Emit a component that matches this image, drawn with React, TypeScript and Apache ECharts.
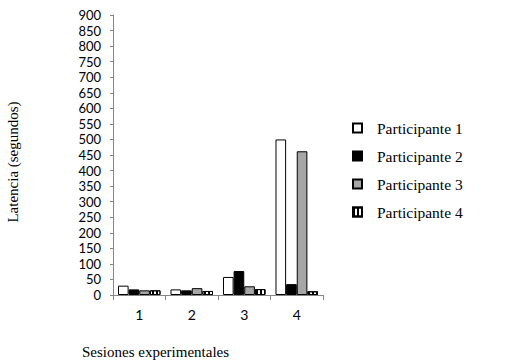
import React, { useEffect, useRef } from "react";
import * as echarts from "echarts";

const categories = ["1", "2", "3", "4"];
const participante1 = [30, 18, 58, 500];
const participante2 = [18, 15, 77, 35];
const participante3 = [15, 22, 28, 462];
const participante4 = [15, 13, 19, 12];
const seriesNames = ["Participante 1", "Participante 2", "Participante 3", "Participante 4"];

export default function App() {
  const ref = useRef<HTMLDivElement>(null);
  useEffect(() => {
    const chart = echarts.init(ref.current!, null, { renderer: "svg" });
    const serif = "Liberation Serif";
    const sans = "Lato";
    const base = { type: "bar", barGap: "0%", barCategoryGap: "19%" };
    chart.setOption({
      animation: false,
      backgroundColor: "#fff",
      grid: { left: 113, right: 184, top: 15, bottom: 68, containLabel: false },
      legend: {
        orient: "vertical",
        left: 347,
        top: 115,
        itemWidth: 9,
        itemHeight: 9,
        itemGap: 12,
        icon: "rect",
        data: seriesNames,
        textStyle: { fontFamily: serif, fontSize: 15.5, color: "#000", padding: [0, 0, 0, 10], lineHeight: 15 },
      },
      xAxis: {
        type: "category",
        data: categories,
        axisLine: { lineStyle: { color: "#868686" } },
        axisTick: { show: true, length: 5, lineStyle: { color: "#868686" } },
        axisLabel: { fontFamily: sans, fontSize: 14, color: "#000", margin: 12 },
      },
      yAxis: {
        type: "value",
        min: 0,
        max: 900,
        interval: 50,
        splitLine: { show: false },
        axisLine: { show: true, lineStyle: { color: "#868686" } },
        axisTick: { show: true, length: 3, lineStyle: { color: "#868686" } },
        axisLabel: { fontFamily: sans, fontSize: 13, color: "#000", margin: 12 },
      },
      graphic: [
        {
          type: "text",
          x: 13,
          y: 162,
          rotation: Math.PI / 2,
          style: {
            text: "Latencia (segundos)",
            fontFamily: serif,
            fontSize: 15,
            fill: "#000",
            align: "center",
            verticalAlign: "middle",
          },
        },
        {
          type: "text",
          x: 82,
          y: 352,
          style: {
            text: "Sesiones experimentales",
            fontFamily: serif,
            fontSize: 15,
            fill: "#000",
            align: "left",
            verticalAlign: "middle",
          },
        },
      ],
      series: [
        { ...base, name: seriesNames[0], data: participante1, itemStyle: { color: "#ffffff", borderColor: "#000", borderWidth: 1 } },
        { ...base, name: seriesNames[1], data: participante2, itemStyle: { color: "#000000", borderColor: "#000", borderWidth: 1 } },
        { ...base, name: seriesNames[2], data: participante3, itemStyle: { color: "#a6a6a6", borderColor: "#000", borderWidth: 1 } },
        {
          ...base,
          name: seriesNames[3],
          data: participante4,
          itemStyle: {
            color: "#ffffff",
            borderColor: "#000",
            borderWidth: 1,
            decal: {
              symbol: "rect",
              symbolSize: 1,
              color: "#000",
              backgroundColor: "#ffffff",
              dashArrayX: [2, 2],
              dashArrayY: [20, 0],
              rotation: 0,
            },
          },
        },
      ],
    });
    return () => chart.dispose();
  }, []);
  return <div ref={ref} style={{ width: 507, height: 363, position: "absolute", left: 0, top: 0 }} />;
}
